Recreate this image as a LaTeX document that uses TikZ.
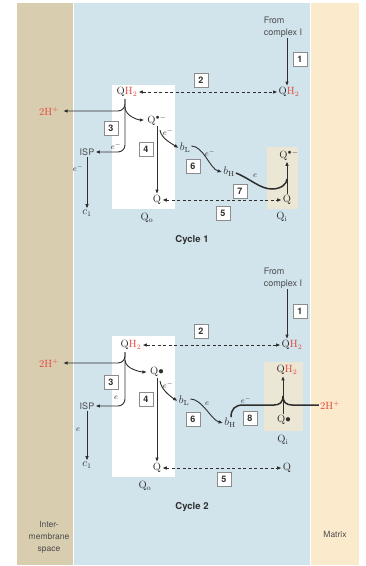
\documentclass[tikz,border=0pt]{standalone}
\usepackage{fontspec}
\setsansfont{TeX Gyre Heros}
\usetikzlibrary{arrows.meta,shadows}
\definecolor{imsc}{HTML}{D9CDB0}
\definecolor{cytc}{HTML}{D1E4EC}
\definecolor{matc}{HTML}{FBEACB}
\definecolor{qic}{HTML}{ECE6D5}
\definecolor{hred}{HTML}{E2453C}
\definecolor{ink}{HTML}{2E2E2E}
\newcommand{\qhtwo}{Q\textcolor{hred}{H$_2$}}
\tikzset{
 lab/.style={inner sep=1pt, font=\fontsize{10.5}{12}\selectfont, text=ink},
 sans/.style={inner sep=1pt, font=\sffamily\fontsize{9}{12}\selectfont, text=ink!85},
 numbox/.style={draw=black!45, line width=0.5pt, fill=white, minimum size=14.5pt, inner sep=0pt,
   font=\sffamily\bfseries\fontsize{9}{9}\selectfont, text=ink,
   drop shadow={shadow xshift=0.8pt, shadow yshift=-0.8pt, opacity=0.35, fill=black!50}},
 elab/.style={inner sep=0.5pt, font=\fontsize{8.5}{9}\selectfont, text=ink},
 arr/.style={draw=ink, line width=0.9pt, -{Latex[length=4.5pt,width=3.6pt]}},
 darr/.style={draw=ink, line width=0.9pt, dash pattern=on 3pt off 2.5pt,
   {Latex[length=4.5pt,width=3.6pt]}-{Latex[length=4.5pt,width=3.6pt]}},
 heavy/.style={draw=ink, line width=1.5pt},
 cyc/.style={font=\sffamily\bfseries\fontsize{9.5}{11}\selectfont, text=ink}
}
\begin{document}
\begin{tikzpicture}[x=1pt,y=-1pt]
\useasboundingbox (0,0) rectangle (365,566);
% bands
\fill[imsc] (17,3) rectangle (72.5,565);
\fill[cytc] (73.5,3) rectangle (310,565);
\fill[matc] (311,3) rectangle (359,565);
% cycle 1 boxes
\fill[white] (112,85) rectangle (175,209);
\fill[qic] (267,147) rectangle (298,209);
% cycle 2 boxes
\fill[white] (112,336) rectangle (175,477);
\fill[qic] (264,362) rectangle (303,431);

%================ CYCLE 1
\node[sans, align=left] (from1) at (283,27) {From\\complex I};
\node[lab] (qR1) at (289,92) {\qhtwo};
\node[lab] (qL1) at (127,92) {\qhtwo};
\draw[arr] (from1.south -| 287,0) -- (qR1.north -| 287,0);
\node[numbox] (n1a) at (300,59) {1};
\draw[darr] (qL1.east) -- (qR1.west);
\node[numbox] (n2a) at (201,80) {2};

\node[lab, text=hred] (h1) at (49,111) {2H$^+$};
\coordinate (s1) at (125,99);
\draw[arr, rounded corners=7pt, shorten >=3pt] (s1) |- (h1.east);
\node[sans] (isp1) at (87,152) {ISP};
\draw[arr, rounded corners=7pt] (s1) |- (isp1.east);
\node[lab] (qm1) at (157,120) {Q$^{\bullet-}$};
\coordinate (s1b) at (125,107);
\draw[arr, shorten >=2pt] (s1b) .. controls +(0,9) and +(-8,0) .. (qm1.west);
\node[numbox] (n3a) at (111,128) {3};
\node[elab] (e1a) at (116,146) {$e^-$};
\node[lab] (c1a) at (87,213) {$c_1$};
\draw[arr] (isp1.south) -- (c1a.north);
\node[elab] (e1b) at (78,168) {$e^-$};

\node[lab] (qo1) at (157,200) {Q};
\draw[arr] (qo1.north |- qm1.south) -- (qo1.north);
\node[numbox] (n4a) at (146,149) {4};

\node[lab] (bL1) at (185,148) {$b_{\mathrm{L}}$};
\coordinate (e1s) at (160,130);
\draw[arr] (e1s) .. controls +(1,8) and +(-8,-5) .. (bL1.west);
\node[elab] (e1c) at (168,132) {$e^-$};
\node[lab] (bH1) at (229,172) {$b_{\mathrm{H}}$};
\draw[arr] ([yshift=2pt]bL1.east) .. controls +(12,0) and +(-12,-3) .. (bH1.west);
\node[elab] (e1d) at (210,153) {$e^-$};
\node[numbox] (n6a) at (193,166) {6};

\node[lab] (qi1) at (287,200) {Q};
\node[lab] (qmi1) at (289,155) {Q$^{\bullet-}$};
\draw[arr] (qi1.north) -- (qi1.north |- qmi1.south);
\coordinate (k1) at (272,189);
\coordinate (k1b) at (287,179);
\draw[heavy] ([yshift=-1pt]bH1.east) .. controls +(15,6) and +(-12,0) .. (k1) .. controls +(9,0) and +(0,5) .. (k1b);
\node[elab] (e1e) at (255,176) {$e$};
\node[numbox] (n7a) at (240,191) {7};
\draw[darr] (qo1.east) -- (qi1.west);
\node[numbox] (n5a) at (223,213) {5};
\node[lab] (qoa) at (147,218) {Q$_\mathrm{o}$};
\node[lab] (qia) at (282,217) {Q$_\mathrm{i}$};
\node[cyc] (cy1) at (192,240) {Cycle 1};

%================ CYCLE 2
\node[sans, align=left] (from2) at (283,278) {From\\complex I};
\node[lab] (qR2) at (292,345) {\qhtwo};
\node[lab] (qL2) at (131,345) {\qhtwo};
\draw[arr] (from2.south -| 287,0) -- (qR2.north -| 287,0);
\node[numbox] (n1b) at (300,311) {1};
\draw[darr] (qL2.east) -- (qR2.west);
\node[numbox] (n2b) at (201,331) {2};

\node[lab, text=hred] (h2) at (49,363) {2H$^+$};
\coordinate (s2) at (125,352);
\draw[arr, rounded corners=7pt, shorten >=3pt] (s2) |- (h2.east);
\node[sans] (isp2) at (87,406) {ISP};
\draw[arr, rounded corners=7pt] (s2) |- (isp2.east);
\node[lab] (qm2) at (157,372) {Q$\bullet$};
\coordinate (s2b) at (125,360);
\draw[arr, shorten >=2pt] (s2b) .. controls +(0,9) and +(-8,0) .. (qm2.west);
\node[numbox] (n3b) at (111,382) {3};
\node[elab] (e2a) at (116,398) {$e$};
\node[lab] (c1b) at (87,465) {$c_1$};
\draw[arr] (isp2.south) -- (c1b.north);
\node[elab] (e2b) at (78,430) {$e$};

\node[lab] (qo2) at (157,468) {Q};
\draw[arr] (qo2.north |- qm2.south) -- (qo2.north);
\node[numbox] (n4b) at (146,399) {4};

\node[lab] (bL2) at (184,401) {$b_{\mathrm{L}}$};
\coordinate (e2s) at (160,381);
\draw[arr] (e2s) .. controls +(1,8) and +(-8,-5) .. (bL2.west);
\node[elab] (e2c) at (168,385) {$e^-$};
\node[lab] (bH2) at (230,423) {$b_{\mathrm{H}}$};
\draw[arr] ([yshift=2pt]bL2.east) .. controls +(12,0) and +(-12,-3) .. (bH2.west);
\node[elab] (e2d) at (207,404) {$e$};
\node[numbox] (n6b) at (193,419) {6};

\node[lab] (qd2) at (284,420) {Q$\bullet$};
\node[lab] (qhi2) at (287,370) {\qhtwo};
\draw[arr] (qd2.north -| 283,0) -- (qhi2.south -| 283,0);
\coordinate (m1) at (243,405);
\coordinate (m2) at (274,405);
\coordinate (jj) at (283,396);
\coordinate (m3) at (292,405);
\node[lab, text=hred] (h2r) at (330,405) {2H$^+$};
\draw[heavy] ([xshift=1pt]bH2.north) .. controls +(0,-8) and +(-8,0) .. (m1) -- (m2) .. controls +(6,0) and +(0,6) .. (jj);
\draw[heavy] (h2r.west) -- (m3) .. controls +(-6,0) and +(0,6) .. (jj);
\node[elab] (e2e) at (246,400) {$e^-$};
\node[numbox] (n8b) at (250,418) {8};
\node[lab] (qia2) at (283,440) {Q$_\mathrm{i}$};

\node[lab] (qi2) at (287,468) {Q};
\draw[darr] (qo2.east) -- (qi2.west);
\node[numbox] (n5b) at (224,479) {5};
\node[lab] (qob) at (145,486) {Q$_\mathrm{o}$};
\node[cyc] (cy2) at (192,507) {Cycle 2};

\node[sans, align=center, font=\sffamily\fontsize{8.5}{12}\selectfont] (ims) at (49,537) {Inter-\\membrane\\space};
\node[sans, font=\sffamily\fontsize{8.5}{12}\selectfont] (mtx) at (335,534) {Matrix};
\end{tikzpicture}
\end{document}
